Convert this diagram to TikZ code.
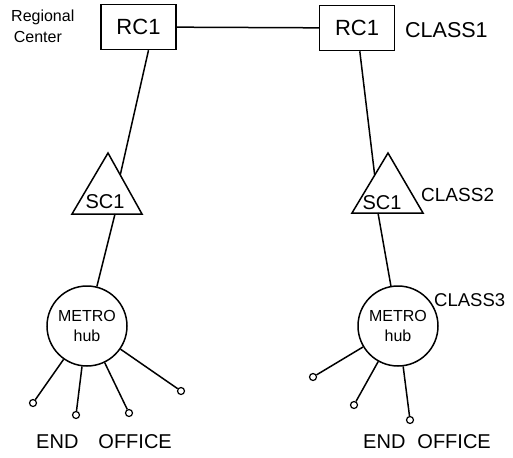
\documentclass[tikz,border=0pt]{standalone}
\usepackage{fontspec}
\setmainfont{Liberation Sans}
\usetikzlibrary{calc}

\tikzset{
    rcbox/.style={rectangle, draw, line width=1.5pt, minimum width=75pt, minimum height=45pt, inner sep=0pt, font=\fontsize{22}{24}\selectfont},
    hubnode/.style={circle, draw, line width=1.5pt, minimum size=80pt, inner sep=0pt, align=center, font=\fontsize{16}{20}\selectfont},
    endoff/.style={circle, draw, line width=1.2pt, minimum size=7pt, inner sep=0pt},
    classlbl/.style={anchor=west, inner sep=0pt, font=\fontsize{19}{22}\selectfont},
    link/.style={line width=1.5pt}
}

\begin{document}
\begin{tikzpicture}[x=1pt, y=-1pt]
    \useasboundingbox (0,0) rectangle (513,457);

    % Regional centers
    \node[anchor=west, align=left, inner sep=0pt, font=\fontsize{16}{21}\selectfont] (rgn) at (11,26) {Regional\\\,Center};
    \node[rcbox] (lrc) at (138.5,27) {RC1};
    \node[rcbox] (rrc) at (357,28) {RC1};
    \node[classlbl, font=\fontsize{21.5}{24}\selectfont] (c1) at (405,30) {CLASS1};
    \draw[link] (lrc) -- (rrc);

    % Sectional centers as triangles
    \coordinate (lapex) at (108,153);
    \coordinate (lbl) at (72,214);
    \coordinate (lbr) at (142,214);
    \coordinate (rapex) at (388,153);
    \coordinate (rbl) at (352,213);
    \coordinate (rbr) at (423,213);
    \draw[link, line join=miter] (lapex) -- (lbl) -- (lbr) -- cycle;
    \draw[link, line join=miter] (rapex) -- (rbl) -- (rbr) -- cycle;
    \coordinate (lin) at ($(lapex)!0.36!(lbr)$);
    \coordinate (rin) at ($(rapex)!0.37!(rbl)$);
    \coordinate (lout) at (115,214);
    \coordinate (rout) at (378,213);
    \node[inner sep=0pt, font=\fontsize{20}{24}\selectfont] (lsc) at (105,202) {SC1};
    \node[inner sep=0pt, font=\fontsize{20}{24}\selectfont] (rsc) at (382,203) {SC1};
    \node[classlbl] (c2) at (421,195) {CLASS2};
    \draw[link] ([xshift=10pt]lrc.south) -- (lin);
    \draw[link] (rrc) -- (rin);

    % Metro hubs
    \node[hubnode] (lhub) at (87,326) {METRO\\hub};
    \node[hubnode] (rhub) at (398,326) {METRO\\hub};
    \node[classlbl, font=\fontsize{18.5}{22}\selectfont] (c3) at (434,300) {CLASS3};
    \draw[link] (lout) -- (lhub);
    \draw[link] (rout) -- (rhub);

    % End offices
    \foreach \name/\pos in {leo1/{33,403}, leo2/{76,415}, leo3/{129,413}, leo4/{181,391}} {
        \node[endoff] (\name) at (\pos) {};
        \draw[link] (lhub) -- (\name);
    }
    \foreach \name/\pos in {reo1/{313,377}, reo2/{354,405}, reo3/{410,420}} {
        \node[endoff] (\name) at (\pos) {};
        \draw[link] (rhub) -- (\name);
    }
    \node[inner sep=0pt, font=\fontsize{20}{24}\selectfont] (leoff) at (104,442) {END\hspace{20pt}OFFICE};
    \node[inner sep=0pt, font=\fontsize{20}{24}\selectfont] (reoff) at (427,442) {END\hspace{12pt}OFFICE};
\end{tikzpicture}
\end{document}
